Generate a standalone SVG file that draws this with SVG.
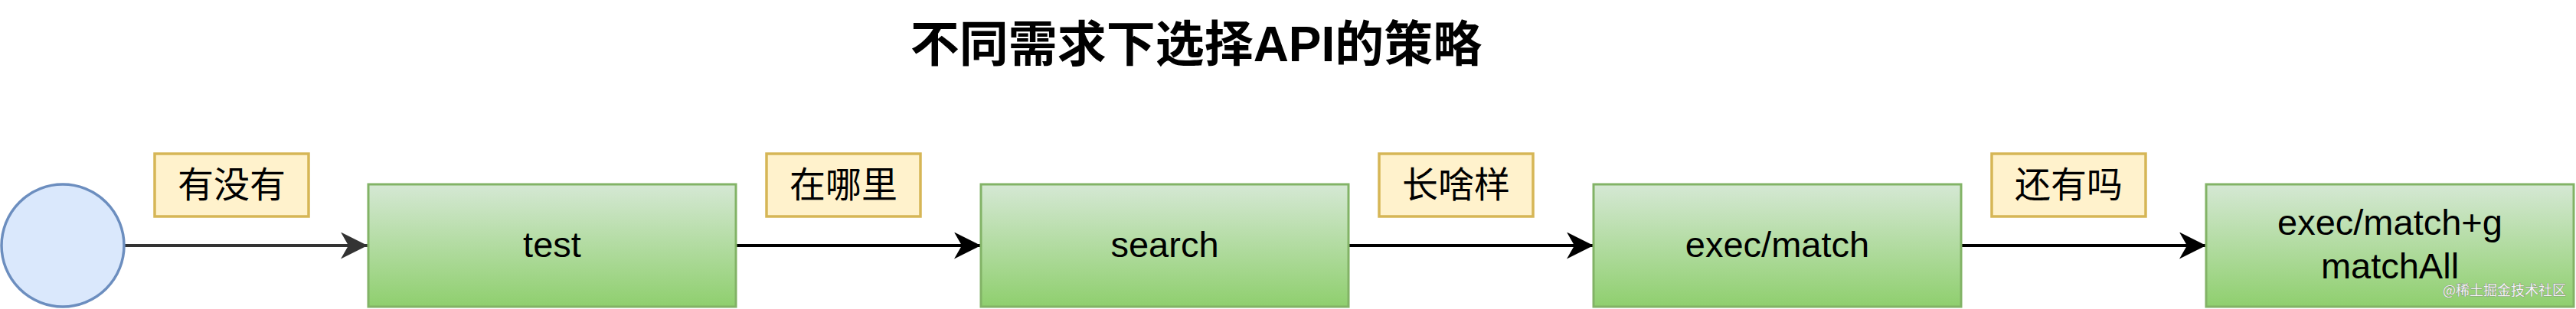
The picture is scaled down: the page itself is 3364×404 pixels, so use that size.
<svg xmlns="http://www.w3.org/2000/svg" width="3364" height="404" viewBox="0 0 3364 404">
  <style>
    .title { font-family: "Liberation Sans", "Noto Sans CJK SC", sans-serif; font-size: 64px; font-weight: bold; fill: #000; }
    .box { stroke: #82b366; stroke-width: 3; fill: url(#greenGrad); }
    .lbl { fill: #fff2cc; stroke: #d6b656; stroke-width: 3.5; }
    .t { font-family: "Liberation Sans", "Noto Sans CJK SC", sans-serif; font-size: 47px; fill: #000; text-anchor: middle; }
    .cjk { font-family: "Liberation Sans", "Noto Sans CJK SC", sans-serif; font-size: 47px; fill: #000; text-anchor: middle; }
    .edge { fill: none; stroke-width: 4; }
    .wm { font-family: "Noto Sans CJK SC", sans-serif; font-size: 18px; fill: #f4f4f4; stroke: #777; stroke-width: 0.7; paint-order: stroke; }
  </style>
  <defs>
    <linearGradient id="greenGrad" x1="0" y1="0" x2="0" y2="1">
      <stop offset="0" stop-color="#d5e8d4"/>
      <stop offset="1" stop-color="#8fcf6e"/>
    </linearGradient>
    <marker id="arrGray" markerUnits="userSpaceOnUse" viewBox="0 0 35 35" refX="35" refY="17.5" markerWidth="35" markerHeight="35" orient="auto">
      <path d="M0,0 L35,17.5 L0,35 L10,17.5 Z" fill="#333333"/>
    </marker>
    <marker id="arrBlack" markerUnits="userSpaceOnUse" viewBox="0 0 35 35" refX="35" refY="17.5" markerWidth="35" markerHeight="35" orient="auto">
      <path d="M0,0 L35,17.5 L0,35 L10,17.5 Z" fill="#000000"/>
    </marker>
  </defs>
  <rect x="0" y="0" width="3364" height="404" fill="#ffffff"/>

  <text id="title" class="title" x="1562" y="80" text-anchor="middle">不同需求下选择API的策略</text>

  <g id="connectors">
    <line class="edge" x1="163" y1="321" x2="480" y2="321" stroke="#333333" marker-end="url(#arrGray)"/>
    <line class="edge" x1="961" y1="321" x2="1281" y2="321" stroke="#000000" marker-end="url(#arrBlack)"/>
    <line class="edge" x1="1761" y1="321" x2="2081" y2="321" stroke="#000000" marker-end="url(#arrBlack)"/>
    <line class="edge" x1="2561" y1="321" x2="2881" y2="321" stroke="#000000" marker-end="url(#arrBlack)"/>
  </g>

  <g id="start">
    <circle cx="82" cy="321" r="80" fill="#dae8fc" stroke="#6c8ebf" stroke-width="3.5"/>
  </g>

  <g id="label1">
    <rect class="lbl" x="202" y="201" width="201" height="82"/>
    <text class="cjk" x="302.5" y="258">有没有</text>
  </g>
  <g id="label2">
    <rect class="lbl" x="1001" y="201" width="201" height="82"/>
    <text class="cjk" x="1101.5" y="258">在哪里</text>
  </g>
  <g id="label3">
    <rect class="lbl" x="1801" y="201" width="201" height="82"/>
    <text class="cjk" x="1901.5" y="258">长啥样</text>
  </g>
  <g id="label4">
    <rect class="lbl" x="2601" y="201" width="201" height="82"/>
    <text class="cjk" x="2701.5" y="258">还有吗</text>
  </g>

  <g id="node-test">
    <rect class="box" x="481" y="241" width="480" height="160"/>
    <text class="t" x="721" y="336">test</text>
  </g>
  <g id="node-search">
    <rect class="box" x="1281" y="241" width="480" height="160"/>
    <text class="t" x="1521" y="336">search</text>
  </g>
  <g id="node-exec">
    <rect class="box" x="2081" y="241" width="480" height="160"/>
    <text class="t" x="2321" y="336">exec/match</text>
  </g>
  <g id="node-execg">
    <rect class="box" x="2881" y="241" width="480" height="160"/>
    <text class="t" x="3121" y="307">exec/match+g</text>
    <text class="t" x="3121" y="364">matchAll</text>
  </g>

  <text class="wm" x="3190" y="386">@稀土掘金技术社区</text>
</svg>
